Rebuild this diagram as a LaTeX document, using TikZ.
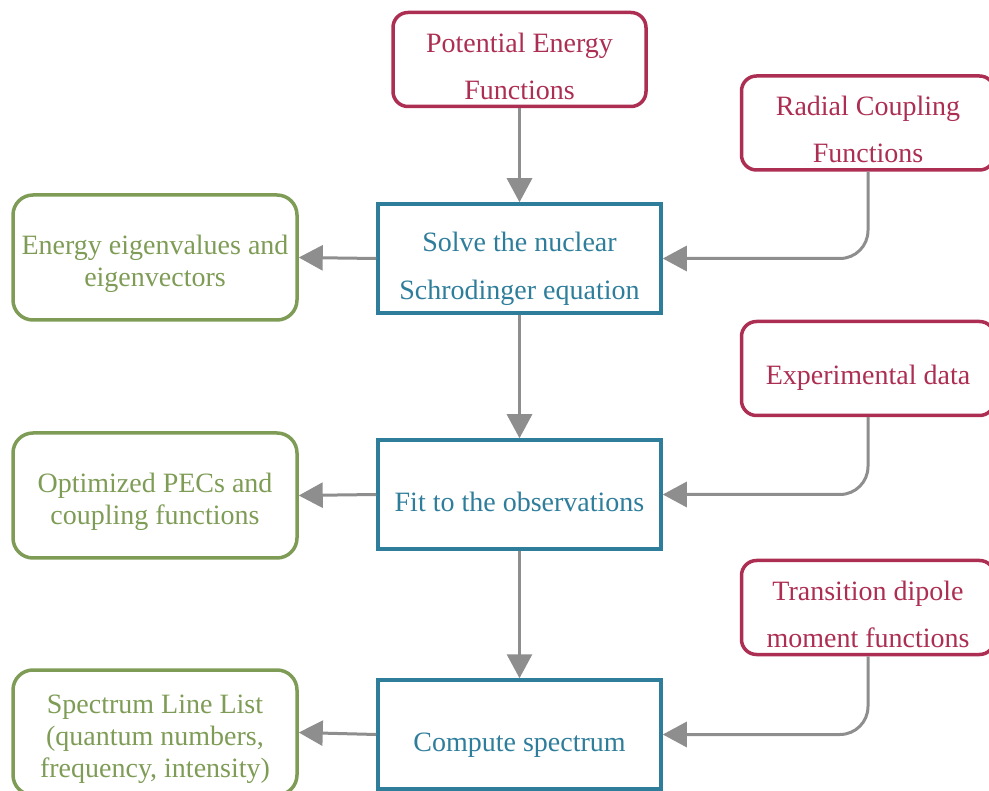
\documentclass[tikz,border=0pt]{standalone}
\usepackage{fontspec}
\setmainfont{Liberation Serif}
\usetikzlibrary{arrows.meta}
\definecolor{cred}{RGB}{172,46,82}
\definecolor{cblue}{RGB}{46,125,155}
\definecolor{cgreen}{RGB}{126,156,86}
\definecolor{cgray}{RGB}{142,142,142}
\newcommand{\lowtext}[1]{\raisebox{-7pt}[\height][\depth]{\begin{tabular}{@{}c@{}}#1\end{tabular}}}
\tikzset{
  redbox/.style={draw=cred, text=cred, line width=3.5pt, rounded corners=15pt,
    minimum width=253pt, minimum height=94pt,
    font=\fontsize{28}{47}\selectfont, inner sep=0pt},
  bluebox/.style={draw=cblue, text=cblue, line width=3.5pt,
    minimum width=283pt, minimum height=109pt,
    font=\fontsize{28}{48}\selectfont, inner sep=0pt},
  greenbox/.style={draw=cgreen, text=cgreen, line width=3.5pt, rounded corners=20pt,
    minimum width=284pt, minimum height=125pt,
    font=\fontsize{28}{32}\selectfont, inner sep=0pt},
  conn/.style={draw=cgray, line width=3pt, -{Triangle[width=25pt,length=24pt]}},
}
\begin{document}
\begin{tikzpicture}[x=1pt,y=-1pt]
\useasboundingbox (0,0) rectangle (989,791);
\node[redbox] (pef) at (519.5,59.5) {\lowtext{Potential Energy\\Functions}};
\node[redbox] (rcf) at (868,123) {\lowtext{Radial Coupling\\Functions}};
\node[redbox] (exp) at (868,368.5) {\lowtext{Experimental data}};
\node[redbox] (tdm) at (868,607.5) {\lowtext{Transition dipole\\moment functions}};
\node[bluebox] (solve) at (519.5,258.5) {\lowtext{Solve the nuclear\\Schrodinger equation}};
\node[bluebox] (fit) at (519.5,494.5) {\lowtext{Fit to the observations}};
\node[bluebox] (comp) at (519.5,734.5) {\lowtext{Compute spectrum}};
\node[greenbox] (eig) at (155,257.5) {\lowtext{Energy eigenvalues and\\eigenvectors}};
\node[greenbox] (opt) at (155,495.5) {\lowtext{Optimized PECs and\\coupling functions}};
\node[greenbox] (spec) at (155,732.5) {\lowtext{Spectrum Line List\\(quantum numbers,\\frequency, intensity)}};
\draw[conn] (pef) -- (solve);
\draw[conn] (solve) -- (fit);
\draw[conn] (fit) -- (comp);
\draw[conn] (solve.west) -- (eig.east);
\draw[conn] (fit.west) -- (opt.east);
\draw[conn] (comp.west) -- (spec.east);
\draw[conn, rounded corners=28pt] (rcf.south) |- (solve.east);
\draw[conn, rounded corners=28pt] (exp.south) |- (fit.east);
\draw[conn, rounded corners=28pt] (tdm.south) |- (comp.east);
\end{tikzpicture}
\end{document}
